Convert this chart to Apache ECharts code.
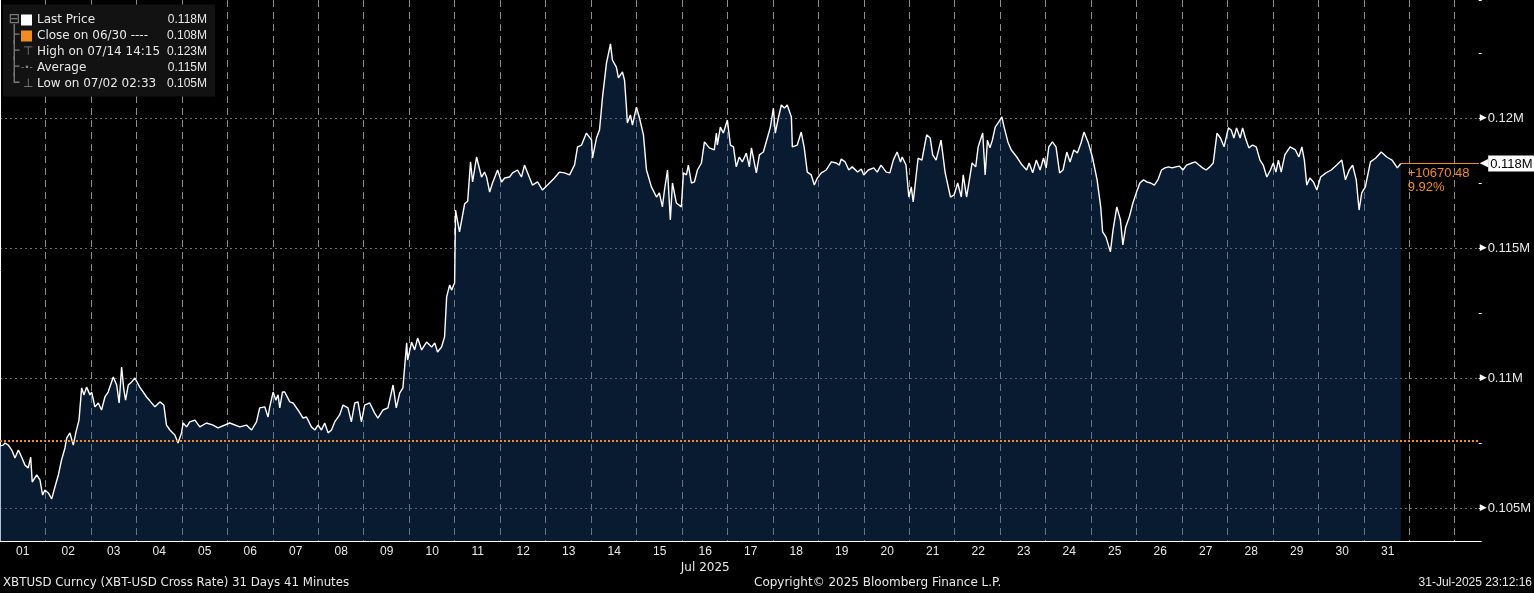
<!DOCTYPE html>
<html><head><meta charset="utf-8">
<script src="https://cdn.jsdelivr.net/npm/echarts@6/dist/echarts.min.js"></script>
<style>html,body{margin:0;padding:0;background:#000;}#c{width:1534px;height:593px;}</style>
</head><body><div id="c"></div>
<script>
// ---- data ----
const dayLabels = ['01','02','03','04','05','06','07','08','09','10','11','12','13','14','15','16','17','18','19','20','21','22','23','24','25','26','27','28','29','30','31'];
const monthLabel = 'Jul 2025';
const monthLabelDay = '16';
const closePrev = 107580;            // close on 06/30
// [hours since 2025-07-01 00:00, price]
const pricePoints = [
[0,107390],[1.7,107420],[2.6,107500],[4.4,107420],[6.2,107230],[7.9,106920],[9.7,107230],[11.4,106960],[13.2,106650],[14.9,106540],[16.2,106960],[17.0,106000],[19.4,106270],[21.1,106080],[22.5,105500],[23.7,105690],[25.5,105580],[27.3,105350],[29.0,105810],[30.8,106270],[32.5,106850],[34.3,107310],[35.2,107690],[36.9,107890],[38.7,107420],[40.1,107920],[41.7,108380],[43.1,109620],[44.3,109350],[45.7,109650],[47.5,109350],[48.4,109460],[50.1,108890],[51.9,109040],[53.6,108770],[55.4,109270],[57.1,109460],[59.8,110040],[61.6,109730],[62.9,109040],[64.2,110420],[65.4,109540],[66.3,109150],[67.7,109730],[69.5,109850],[71.2,110000],[73.8,109650],[77.4,109270],[81.8,108890],[84.4,109080],[86.5,108960],[87.9,108190],[89.7,108000],[92.3,107810],[94.0,107500],[95.8,107890],[96.7,108270],[98.5,108120],[100.2,108310],[102.9,108380],[105.5,108120],[109.0,108270],[112.5,108190],[115.1,108080],[121.3,108270],[126.6,108120],[130.1,108190],[132.8,108000],[135.4,108310],[137.1,108850],[139.8,108890],[141.5,108500],[142.4,108890],[144.2,109460],[145.6,109150],[146.8,109350],[147.7,108850],[149.1,109460],[150.3,109460],[153.0,109080],[154.7,109040],[157.3,108770],[160.0,108460],[161.8,108500],[164.4,108120],[166.2,108000],[167.9,108190],[169.7,108000],[171.4,108270],[173.2,107890],[175.0,108000],[176.7,108310],[179.3,108580],[181.1,108960],[183.7,108850],[185.5,108310],[187.3,109040],[189.0,109080],[190.8,108310],[192.5,108960],[195.2,109040],[197.8,108650],[199.5,108460],[202.2,108770],[204.8,108850],[207.5,109730],[209.2,108850],[211.0,109420],[212.7,109620],
[214.7,111350],[215.2,110690],[217.3,111380],[218.9,111080],[220.5,111540],[222.6,111080],[225.2,111380],[227.9,111190],[229.5,111350],[231.0,111000],[233.1,111190],[234.7,111580],[235.8,113120],[237.4,113580],[238.4,113380],[240.0,113650],[240.5,116460],[242.6,115620],[245.3,116700],[246.9,116800],[248.4,118310],[249.5,117540],[251.6,118500],[254.2,117730],[255.8,117920],[256.9,117730],[258.5,117150],[260.0,117500],[262.7,118000],[264.8,117540],[266.4,117690],[269.0,117730],[270.6,117890],[273.2,118000],[275.3,117730],[276.9,118190],[278.5,117890],[281.1,117420],[283.8,117540],[286.4,117230],[290.1,117500],[292.7,117690],[295.4,117920],[298.0,117890],[300.7,117810],[303.3,118190],[304.9,118890],[307.0,118960],[309.6,119420],[312.3,119150],[312.8,118460],[314.9,119230],[316.5,119540],[318.1,120810],[320.2,122120],[321.2,122150],[322.3,122850],[323.3,122230],[325.4,121960],[326.5,121540],[328.6,121770],[329.7,121460],[330.7,120420],[331.2,119810],[332.8,120120],[333.9,119730],[336.0,120420],[337.6,120000],[339.7,119350],[341.3,118000],[343.9,117350],[346.6,116960],[348.1,117120],[349.7,116580],[350.8,117230],[352.4,118000],[353.9,116080],[355.0,117500],[357.1,116730],[359.7,116580],[360.8,117890],[362.4,117810],[363.4,118190],[365.0,117500],[366.6,117540],[368.2,118000],[370.3,118270],[371.9,119080],[374.5,118850],[377.1,118770],[378.2,119420],[378.7,118960],[380.3,119650],[381.9,119420],[384.0,119920],[385.6,118960],[387.2,118890],[388.7,118120],[390.3,118500],[391.9,118310],[394.0,118650],[395.6,118120],[396.7,118850],[399.3,117890],[400.9,118580],[403.0,118690],[405.1,119230],[406.7,119650],[408.3,120380],[409.3,119420],[410.9,120000],[412.5,120500],[414.1,120380],[415.6,120500],[417.8,120040],[418.3,118890],[420.9,118960],[423.0,119460],[424.6,118850],[426.2,117920],[428.3,117810],[429.9,117420],[431.5,117690],[433.6,117890],[436.2,118000],[438.9,118310],[441.5,118270],[443.1,118190],
[444.1,118420],[446.2,118310],[448.1,118000],[449.9,118120],[452.8,117920],[454.7,118040],[456.0,117810],[458.4,118000],[461.3,118080],[463.1,117920],[465.1,118190],[467.9,117920],[469.8,117890],[471.6,118380],[473.6,118690],[475.4,118310],[476.3,118500],[478.3,118190],[479.8,116960],[481.1,117350],[482.1,116770],[483.0,117350],[484.7,118460],[486.7,118380],[489.2,119350],[491.1,119230],[492.4,118580],[494.2,118380],[496.8,119150],[499.0,117890],[501.8,116960],[503.7,117040],[505.6,117500],[507.5,116960],[508.5,117810],[510.3,116960],[511.3,116960],[513.2,118270],[515.1,118120],[516.4,118890],[518.8,119420],[520.1,117810],[521.3,119150],[522.6,118850],[523.9,119150],[525.4,119650],[527.3,119850],[528.9,120040],[530.1,119650],[532.1,119080],[533.9,118770],[536.8,118500],[539.6,118190],[542.0,118000],[543.3,118270],[545.2,117890],[547.1,118380],[549.1,118000],[550.9,118460],[552.3,118080],[553.7,118890],[555.6,119080],[557.5,118890],[559.4,117890],[561.2,118000],[563.2,118690],[564.9,118310],[566.9,118770],[568.8,118650],[570.7,119040],[572.3,119460],[574.4,119080],[576.7,118500],[579.2,117620],[581.1,116580],[582.1,115620],[583.9,115420],[586.2,114850],[587.6,115690],[589.6,116580],[591.5,116080],[592.8,115120],[594.3,115810],[596.2,116190],[598.1,116730],[600.0,117150],[601.8,117500],[603.7,117620],[605.5,117540],[607.5,117500],[609.4,117420],[611.3,117620],[613.2,118000],[615.0,118080],[616.9,118120],[618.8,118080],[620.7,118120],[622.6,118150],[624.5,118000],[626.4,118190],[629.3,118270],[631.1,118310],[633.0,118190],[634.9,118080],[636.7,118000],[638.7,118120],[640.5,118270],[642.5,119420],[644.3,119230],[646.2,118890],[647.2,118850],[648.5,119620],[650.0,119540],[651.4,119230],[652.8,119620],[654.7,119230],[656.0,119620],[657.5,119230],[659.3,118850],[661.3,118960],[663.2,118890],[665.2,118380],[666.9,118190],[668.8,117730],[670.7,118000],[672.2,118270],[673.6,117920],[674.9,118380],[676.4,117920],[678.3,118580],[681.1,118890],[683.9,118770],[685.7,118500],[687.3,118890],[688.6,118380],[689.9,117420],[691.5,117690],[693.4,117540],[695.2,117230],[697.2,117730],[700.0,117890],[702.8,118000],[705.7,118190],[708.4,118380],[710.3,117620],[712.3,118000],[714.1,118190],[716.0,117620],[717.5,116460],[718.9,117120],[720.8,117350],[723.5,118310],[726.3,118460],[729.2,118690],[732.1,118500],[734.9,118380],[737.7,118080],[739.5,118250.48]
];
// axis ranges (hours / price)
const xMin = 0, xMax = 780.66, xStep = 24;
const yMin = 103731, yMax = 124538, yMinorStep = 2500;
// text
const footLeft = 'XBTUSD Curncy (XBT-USD Cross Rate) 31 Days 41 Minutes';
const footMid = 'Copyright\u00a9 2025 Bloomberg Finance L.P.';
const footRight = '31-Jul-2025 23:12:16';

// ---- derived ----
const last = pricePoints[pricePoints.length - 1];
const lastH = last[0], lastP = last[1];
let hi = pricePoints[0], lo = pricePoints[0];
pricePoints.forEach(p => { if (p[1] > hi[1]) hi = p; if (p[1] < lo[1]) lo = p; });
let area = 0;
for (let i = 1; i < pricePoints.length; i++) {
  area += (pricePoints[i][0] - pricePoints[i-1][0]) * (pricePoints[i][1] + pricePoints[i-1][1]) / 2;
}
const avg = area / (lastH - pricePoints[0][0]);
const f3 = v => (v / 1e6).toFixed(3) + 'M';
const fmtM = v => parseFloat((v / 1e6).toFixed(3)) + 'M';
const chg = lastP - closePrev;
const chgText = (chg >= 0 ? '+' : '') + chg.toFixed(2) + '\n' + (chg / closePrev * 100).toFixed(2) + '%';

const FONT = 'Liberation Sans, Arial, sans-serif';
const FONT2 = 'DejaVu Sans, Verdana, sans-serif';
const ORANGE = '#f28c1e';
const TXT = '#e8e8e8';

const legendLines = [
  '{tr|\u229f}{sw| }{g| }{nm|Last Price}{vl|' + f3(lastP) + '}',
  '{tr|\u251c}{so| }{g| }{nm|Close on 06/30 ----}{vl|' + f3(closePrev) + '}',
  '{tr|\u251c}{ic|\u22a4}{nm|High on 07/14 14:15}{vl|' + f3(hi[1]) + '}',
  '{tr|\u251c}{ia|-\u2022-}{nm|Average}{vl|' + f3(avg) + '}',
  '{tr|\u2514}{ic|\u22a5}{nm|Low on 07/02 02:33}{vl|' + f3(lo[1]) + '}'
];

const chart = echarts.init(document.getElementById('c'), null, {renderer: 'canvas'});
const option = {
  backgroundColor: '#000',
  animation: false,
  textStyle: {fontFamily: FONT},
  title: [
    {
      left: 3, top: 5, padding: [7, 8, 4, 6], backgroundColor: '#121212',
      text: legendLines.join('\n'),
      textStyle: {
        fontSize: 12, fontWeight: 'normal', color: TXT, lineHeight: 16, fontFamily: FONT,
        rich: {
          tr: {color: '#7a7a7a', fontFamily: 'DejaVu Sans Mono', fontSize: 17, width: 12, lineHeight: 16},
          sw: {backgroundColor: '#ffffff', width: 11, height: 11, lineHeight: 16},
          so: {backgroundColor: ORANGE, width: 11, height: 11, lineHeight: 16},
          ic: {color: '#8a8a8a', fontFamily: 'DejaVu Sans', fontSize: 12, width: 14, padding: [0, 0, 0, 2], lineHeight: 16},
          ia: {color: '#8a8a8a', fontFamily: 'DejaVu Sans', fontSize: 9, width: 16, lineHeight: 16},
          g: {width: 5, fontSize: 12, lineHeight: 16},
          nm: {color: TXT, fontSize: 12, width: 128, fontFamily: FONT2, lineHeight: 16},
          vl: {color: TXT, fontSize: 12, width: 42, align: 'right', fontFamily: FONT, lineHeight: 16}
        }
      }
    },
    {left: 3, top: 577, padding: 0, text: footLeft, textStyle: {fontSize: 11.8, fontWeight: 'normal', color: TXT, fontFamily: FONT2}},
    {left: 754, top: 577, padding: 0, text: footMid, textStyle: {fontSize: 12, fontWeight: 'normal', color: TXT, fontFamily: FONT2}},
    {right: 2, top: 577, padding: 0, text: footRight, textStyle: {fontSize: 12, fontWeight: 'normal', color: TXT, fontFamily: FONT}}
  ],
  grid: [
    {left: 0, right: 54, top: 0, bottom: 52, containLabel: false},
    {left: 0, width: 1410.5, top: 0, bottom: 52, containLabel: false}
  ],
  xAxis: [
    {
      type: 'value', gridIndex: 0, min: xMin, max: xMax, interval: xStep,
      axisLine: {show: true, onZero: false, lineStyle: {color: '#ffffff', width: 1}},
      axisTick: {show: false}, axisLabel: {show: false},
      splitLine: {show: true, showMinLine: false, showMaxLine: false, lineStyle: {color: '#8c8c8c', width: 1, type: [7, 5]}}
    },
    {
      type: 'category', gridIndex: 1, data: dayLabels, boundaryGap: true,
      axisLine: {show: false}, axisTick: {show: false}, splitLine: {show: false},
      axisLabel: {
        interval: 0, color: TXT, fontSize: 12, margin: 3, lineHeight: 16, fontFamily: FONT,
        formatter: v => v === monthLabelDay ? v + '\n{m|' + monthLabel + '}' : v,
        rich: {m: {fontFamily: FONT2, fontSize: 12, color: TXT, lineHeight: 16}}
      }
    }
  ],
  yAxis: [
    {
      type: 'value', gridIndex: 0, position: 'right', min: yMin, max: yMax, splitNumber: 5,
      axisLine: {show: true, lineStyle: {color: '#ffffff', width: 1}},
      axisTick: {show: false},
      splitLine: {show: true, showMinLine: false, showMaxLine: false, lineStyle: {color: '#6e6e6e', width: 1, type: [2, 3]}},
      axisLabel: {
        showMinLabel: false, showMaxLabel: false, margin: 1, color: TXT, fontFamily: FONT,
        formatter: v => '{t|\u25b6}{v|' + fmtM(v) + '}',
        rich: {
          t: {color: '#ffffff', fontSize: 9, fontFamily: 'DejaVu Sans', padding: [0, 1, 0, 0]},
          v: {color: TXT, fontSize: 13, fontFamily: FONT}
        }
      }
    },
    {type: 'value', gridIndex: 1, show: false},
    {
      type: 'value', gridIndex: 0, position: 'right', min: yMin, max: yMax,
      minInterval: yMinorStep, maxInterval: yMinorStep,
      axisLine: {show: false}, axisLabel: {show: false}, splitLine: {show: false},
      axisTick: {show: true, length: 3, inside: false, lineStyle: {color: '#ffffff', width: 1}}
    }
  ],
  series: [
    {
      name: 'Last Price', type: 'line', xAxisIndex: 0, yAxisIndex: 0,
      data: pricePoints, symbol: 'none', showSymbol: false, clip: false,
      lineStyle: {color: '#ffffff', width: 1.4},
      areaStyle: {color: 'rgba(24,76,140,0.5)', origin: 'start'},
      markLine: {
        silent: true, symbol: ['none', 'none'], animation: false,
        data: [
          {yAxis: closePrev, lineStyle: {color: ORANGE, width: 2, type: [2, 2]}, label: {show: false}},
          [
            {coord: [lastH, lastP], lineStyle: {color: ORANGE, width: 1, type: 'solid'},
             label: {show: true, position: 'end', distance: 1, formatter: '{a|\u25c0}{b|' + fmtM(lastP) + '}',
               rich: {
                 a: {color: '#ffffff', fontSize: 11, fontFamily: 'DejaVu Sans'},
                 b: {backgroundColor: '#ffffff', color: '#000000', fontSize: 13, padding: [2, 6, 1, 2], fontFamily: FONT}
               }}},
            {coord: [xMax, lastP]}
          ],
          [
            {coord: [lastH, lastP], lineStyle: {color: ORANGE, width: 1, type: 'solid'},
             label: {show: true, position: 'insideStartBottom', distance: 3, padding: [0, 0, 0, 4], formatter: chgText,
               color: ORANGE, fontSize: 13, lineHeight: 14, fontFamily: FONT, align: 'left'}},
            {coord: [xMax, lastP]}
          ]
        ]
      }
    }
  ]
};
chart.setOption(option);
</script>
</body></html>
